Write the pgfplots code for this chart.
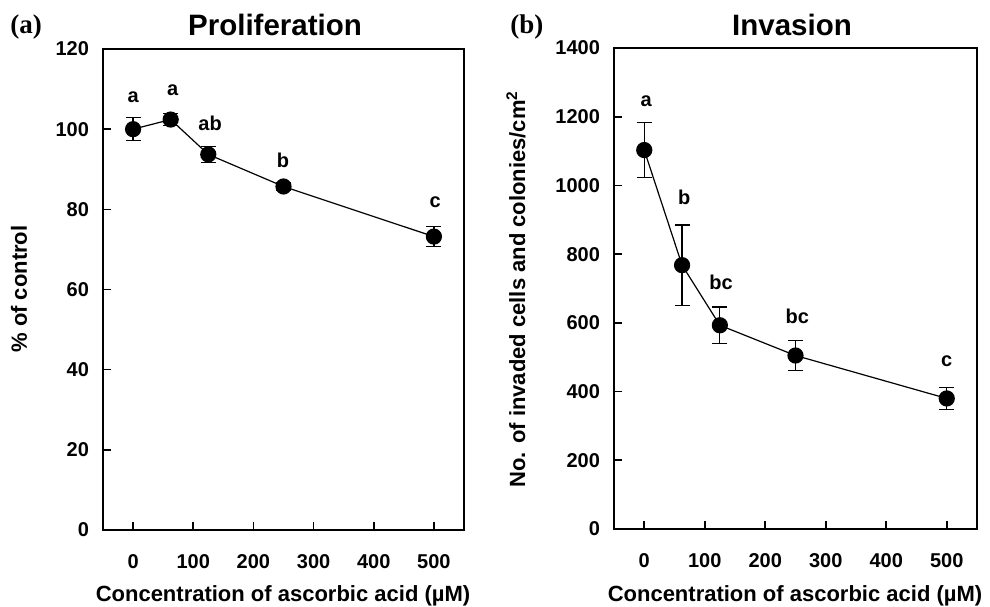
\documentclass[border=0pt]{standalone}
\usepackage{fontspec}
\setmainfont{Liberation Sans}
\newfontfamily\timesb{Liberation Serif}
\usepackage{pgfplots}
\pgfplotsset{compat=1.18}

% mean and SD
\pgfplotstableread{
x     y      e
0     100.0  2.9
62.5  102.4  1.5
125   93.7   2.0
250   85.7   1.0
500   73.2   2.5
}\prolif
\pgfplotstableread{
x     y     e
0     1103  80
62.5  768   117
125   593   53
250   505   44
500   380   31
}\invas

\pgfplotsset{
  panel/.style={
    scale only axis, clip=false,
    axis line style={line width=1pt},
    tick align=inside, major tick length=4pt,
    every tick/.style={line width=0.8pt,black},
    xtick pos=bottom, ytick pos=left,
    xmin=-50, xmax=550, xtick={0,100,...,500},
    /pgf/number format/assume math mode=true,
    /pgf/number format/1000 sep={},
    ticklabel style={font=\fontsize{10}{12}\selectfont\bfseries},
    xticklabel style={yshift=-8.5pt},
    yticklabel style={xshift=-3.5pt},
  },
  series/.style={
    black, line width=0.6pt, mark=*, mark size=3.75pt,
    error bars/.cd, y dir=both, y explicit,
    error bar style={line width=0.6pt},
    error mark options={rotate=90, line width=0.6pt, mark size=3.75pt},
  },
}
\tikzset{lett/.style={font=\fontsize{10}{12}\selectfont\bfseries}}

\begin{document}
\begin{tikzpicture}
\begin{scope}[x=0.5pt,y=-0.5pt]
  \useasboundingbox (0,0) rectangle (990,606);
  \node[anchor=base west,inner sep=0,font=\timesb\fontsize{13.5}{15}\selectfont\bfseries] at (10,33) {(a)};
  \node[anchor=base west,inner sep=0,font=\timesb\fontsize{13.5}{15}\selectfont\bfseries] at (510,33) {(b)};
  \node[anchor=base,inner sep=0,font=\fontsize{14.75}{17}\selectfont\bfseries] at (275,35) {Proliferation};
  \node[anchor=base,inner sep=0,font=\fontsize{14.75}{17}\selectfont\bfseries] at (792,35) {Invasion};
  \node[anchor=base,inner sep=0,font=\fontsize{11}{13}\selectfont\bfseries] at (283,601) {Concentration of ascorbic acid (µM)};
  \node[anchor=base,inner sep=0,font=\fontsize{11}{13}\selectfont\bfseries] at (795,601) {Concentration of ascorbic acid (µM)};
  \node[rotate=90,inner sep=0,font=\fontsize{11}{13}\selectfont\bfseries] at (19,289) {\% of control};
  \node[rotate=90,inner sep=0,font=\fontsize{11}{13}\selectfont\bfseries] at (516,289) {No. of invaded cells and colonies/cm\textsuperscript{2}};
\end{scope}

\begin{axis}[panel, at={(51.5pt,-265pt)}, anchor=south west,
  width=180.5pt, height=240.5pt,
  ymin=0, ymax=120, ytick={0,20,...,120}]
  \addplot[series] table[x=x,y=y,y error=e] {\prolif};
  \node[lett] at (axis cs:0,107.9) {a};
  \node[lett] at (axis cs:66,109.6) {a};
  \node[lett] at (axis cs:128,101.4) {ab};
  \node[lett] at (axis cs:249,92.1) {b};
  \node[lett] at (axis cs:502,81.7) {c};
\end{axis}

\begin{axis}[panel, at={(307pt,-264.5pt)}, anchor=south west,
  width=181.5pt, height=240.5pt,
  ymin=0, ymax=1400, ytick={0,200,...,1400}]
  \addplot[series] table[x=x,y=y,y error=e] {\invas};
  \node[lett] at (axis cs:3,1244) {a};
  \node[lett] at (axis cs:66,965) {b};
  \node[lett] at (axis cs:127,718) {bc};
  \node[lett] at (axis cs:253,620) {bc};
  \node[lett] at (axis cs:500,487) {c};
\end{axis}
\end{tikzpicture}
\end{document}
